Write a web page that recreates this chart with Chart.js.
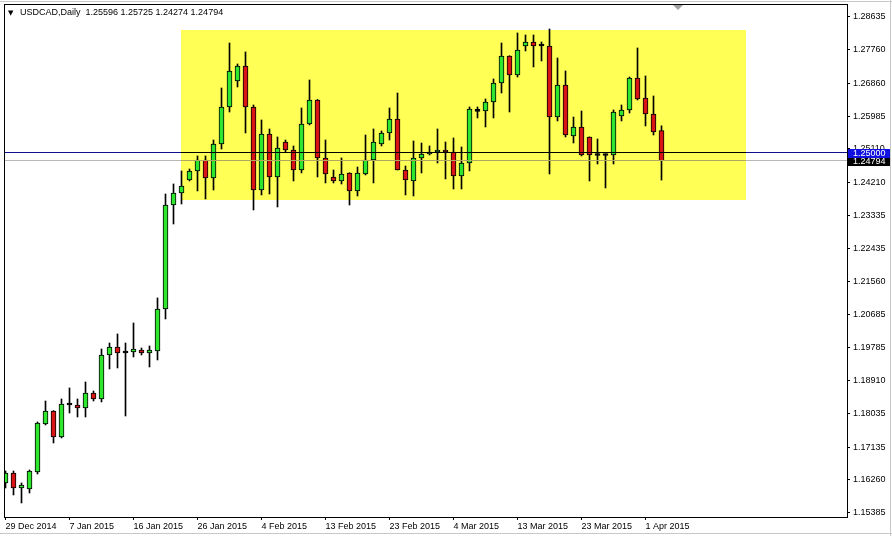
<!DOCTYPE html>
<html>
<head>
<meta charset="utf-8">
<script src="https://cdn.jsdelivr.net/npm/chart.js@4.4.1/dist/chart.umd.min.js"></script>
<style>
  html, body { margin: 0; padding: 0; background: #fff; }
  #chart { display: block; }
</style>
</head>
<body>
<canvas id="chart" width="892" height="536"></canvas>
<script>
const symbolTitle = "USDCAD,Daily  1.25596 1.25725 1.24274 1.24794";

const dates = [
    "29 Dec 2014", "30 Dec 2014", "31 Dec 2014", "1 Jan 2015", "2 Jan 2015", "4 Jan 2015", "5 Jan 2015", "6 Jan 2015",
    "7 Jan 2015", "8 Jan 2015", "9 Jan 2015", "11 Jan 2015", "12 Jan 2015", "13 Jan 2015", "14 Jan 2015", "15 Jan 2015",
    "16 Jan 2015", "18 Jan 2015", "19 Jan 2015", "20 Jan 2015", "21 Jan 2015", "22 Jan 2015", "23 Jan 2015", "25 Jan 2015",
    "26 Jan 2015", "27 Jan 2015", "28 Jan 2015", "29 Jan 2015", "30 Jan 2015", "1 Feb 2015", "2 Feb 2015", "3 Feb 2015",
    "4 Feb 2015", "5 Feb 2015", "6 Feb 2015", "8 Feb 2015", "9 Feb 2015", "10 Feb 2015", "11 Feb 2015", "12 Feb 2015",
    "13 Feb 2015", "15 Feb 2015", "16 Feb 2015", "17 Feb 2015", "18 Feb 2015", "19 Feb 2015", "20 Feb 2015", "22 Feb 2015",
    "23 Feb 2015", "24 Feb 2015", "25 Feb 2015", "26 Feb 2015", "27 Feb 2015", "1 Mar 2015", "2 Mar 2015", "3 Mar 2015",
    "4 Mar 2015", "5 Mar 2015", "6 Mar 2015", "8 Mar 2015", "9 Mar 2015", "10 Mar 2015", "11 Mar 2015", "12 Mar 2015",
    "13 Mar 2015", "15 Mar 2015", "16 Mar 2015", "17 Mar 2015", "18 Mar 2015", "19 Mar 2015", "20 Mar 2015", "22 Mar 2015",
    "23 Mar 2015", "24 Mar 2015", "25 Mar 2015", "26 Mar 2015", "27 Mar 2015", "29 Mar 2015", "30 Mar 2015", "31 Mar 2015",
    "1 Apr 2015", "2 Apr 2015", "3 Apr 2015"
];

const openP = [
    1.16175, 1.16442, 1.16041, 1.16014, 1.16469, 1.17752, 1.18100, 1.17405, 1.18260, 1.18260,
    1.18180, 1.18581, 1.18421, 1.19597, 1.19811, 1.19678, 1.19678, 1.19731, 1.19651, 1.19704,
    1.20827, 1.23608, 1.23929, 1.24277, 1.24518, 1.24812, 1.24330, 1.25239, 1.26229, 1.26924,
    1.27325, 1.26229, 1.24009, 1.25507, 1.24357, 1.25293, 1.25079, 1.24544, 1.25774, 1.26416,
    1.24865, 1.24357, 1.24250, 1.24464, 1.23983, 1.24437, 1.24812, 1.25239, 1.25534, 1.25908,
    1.24544, 1.24250, 1.24865, 1.24972, 1.25026, 1.25079, 1.25026, 1.24384, 1.24731, 1.26110,
    1.26122, 1.26363, 1.26871, 1.27593, 1.27085, 1.27860, 1.27967, 1.27887, 1.27860, 1.25961,
    1.26817, 1.25453, 1.25694, 1.25427, 1.24959, 1.24959, 1.24945, 1.25988, 1.26149, 1.27004,
    1.26470, 1.26042, 1.25596
];
const highP = [
    1.16495, 1.16495, 1.16175, 1.16522, 1.17806, 1.18367, 1.18110, 1.18421, 1.18715, 1.18421,
    1.18875, 1.18635, 1.19758, 1.19918, 1.20159, 1.19918, 1.20453, 1.19785, 1.19838, 1.21122,
    1.23902, 1.24170, 1.24518, 1.24571, 1.24919, 1.24919, 1.25346, 1.26737, 1.27940, 1.27379,
    1.27700, 1.26282, 1.25881, 1.25641, 1.25427, 1.25346, 1.25186, 1.26202, 1.26951, 1.26430,
    1.25346, 1.24544, 1.24865, 1.24470, 1.24624, 1.25480, 1.25641, 1.25587, 1.26202, 1.26603,
    1.24651, 1.25320, 1.25266, 1.25186, 1.25641, 1.25293, 1.25400, 1.25159, 1.26229, 1.26229,
    1.26443, 1.26978, 1.27940, 1.27600, 1.28208, 1.28154, 1.28154, 1.27967, 1.28315, 1.27539,
    1.27192, 1.25961, 1.26122, 1.25430, 1.25373, 1.24972, 1.26149, 1.26282, 1.27031, 1.27807,
    1.27058, 1.26523, 1.25725
];
const lowP = [
    1.16041, 1.15854, 1.15640, 1.15907, 1.16415, 1.17726, 1.17244, 1.17378, 1.18046, 1.17939,
    1.17939, 1.18367, 1.18341, 1.19223, 1.19250, 1.17966, 1.19544, 1.19597, 1.19276, 1.19464,
    1.20560, 1.23100, 1.23635, 1.24250, 1.23983, 1.23769, 1.24009, 1.25106, 1.26095, 1.26764,
    1.25534, 1.23475, 1.23876, 1.23902, 1.23555, 1.25026, 1.24250, 1.24464, 1.25748, 1.24357,
    1.24197, 1.24197, 1.24170, 1.23608, 1.23849, 1.24411, 1.24197, 1.25186, 1.25346, 1.24544,
    1.23876, 1.23849, 1.24464, 1.24945, 1.24731, 1.24304, 1.24036, 1.24036, 1.24518, 1.25935,
    1.25694, 1.25935, 1.26603, 1.26095, 1.27031, 1.27726, 1.27298, 1.27459, 1.24437, 1.25855,
    1.25427, 1.25266, 1.24919, 1.24250, 1.24705, 1.24063, 1.24705, 1.25855, 1.26068, 1.26416,
    1.25721, 1.25480, 1.24274
];
const closeP = [
    1.16442, 1.16041, 1.16121, 1.16495, 1.17779, 1.18100, 1.17405, 1.18287, 1.18287, 1.18180,
    1.18581, 1.18421, 1.19597, 1.19811, 1.19651, 1.19651, 1.19758, 1.19651, 1.19731, 1.20827,
    1.23608, 1.23929, 1.24116, 1.24518, 1.24812, 1.24330, 1.25239, 1.26229, 1.27192, 1.27325,
    1.26229, 1.24009, 1.25507, 1.24357, 1.25133, 1.25079, 1.24544, 1.25774, 1.26416, 1.24865,
    1.24437, 1.24250, 1.24437, 1.23983, 1.24464, 1.24812, 1.25293, 1.25534, 1.25908, 1.24544,
    1.24277, 1.24865, 1.24972, 1.25026, 1.25079, 1.25026, 1.24384, 1.24731, 1.26175, 1.26122,
    1.26363, 1.26871, 1.27593, 1.27085, 1.27753, 1.27967, 1.27860, 1.27860, 1.25961, 1.26817,
    1.25480, 1.25694, 1.24945, 1.24945, 1.24932, 1.24932, 1.26095, 1.26149, 1.27004, 1.26443,
    1.26042, 1.25560, 1.24794
];

const yTicks = [
    1.28635, 1.27760, 1.26860, 1.25985, 1.25110, 1.24210, 1.23335, 1.22435,
    1.21560, 1.20685, 1.19785, 1.18910, 1.18035, 1.17135, 1.16260, 1.15385
];
const xTickStep = 8;

// support / resistance box (bar index, price)
const boxStart = [21.94, 1.28288];
const boxEnd = [92.6, 1.23742];

const lineLevel = 1.25000;
const bidLevel = 1.24794;

const font = { family: "'Liberation Sans', Arial, sans-serif", size: 9 };
const fontStr = "9px 'Liberation Sans', Arial, sans-serif";

const wicks = dates.map((d, i) => ({ x: i, y: [lowP[i], highP[i]] }));
const bodies = dates.map((d, i) => ({ x: i, y: [openP[i], closeP[i]] }));
const bodyColors = dates.map((d, i) => {
    const diff = closeP[i] - openP[i];
    if (Math.abs(diff) < 0.0003) return "#000000";
    return diff > 0 ? "#2ee62e" : "#d81414";
});

const mtPlugin = {
    id: "mtPlugin",
    beforeDraw(chart) {
        const ctx = chart.ctx;
        ctx.save();
        ctx.fillStyle = "#ffffff";
        ctx.fillRect(0, 0, chart.width, chart.height);
        ctx.fillStyle = "#c8c8c8";
        ctx.fillRect(0, 1, chart.width, 1);
        ctx.fillRect(0, 533, chart.width, 1);
        ctx.fillRect(890, 0, 1, chart.height);
        ctx.restore();
    },
    beforeDatasetsDraw(chart) {
        const ctx = chart.ctx;
        const sx = chart.scales.x, sy = chart.scales.y;
        const x1 = Math.round(sx.getPixelForValue(boxStart[0]));
        const x2 = Math.round(sx.getPixelForValue(boxEnd[0]));
        const y1 = Math.round(sy.getPixelForValue(boxStart[1]));
        const y2 = Math.round(sy.getPixelForValue(boxEnd[1]));
        ctx.save();
        ctx.fillStyle = "#ffff55";
        ctx.fillRect(x1, y1, x2 - x1, y2 - y1);
        ctx.restore();
    },
    afterDatasetsDraw(chart) {
        const ctx = chart.ctx;
        const area = chart.chartArea;
        const sx = chart.scales.x, sy = chart.scales.y;
        const bx1 = Math.round(sx.getPixelForValue(boxStart[0]));
        const bx2 = Math.round(sx.getPixelForValue(boxEnd[0]));

        function hline(level, outside, inside) {
            const y = Math.floor(sy.getPixelForValue(level)) + 0.5;
            ctx.lineWidth = 1;
            ctx.strokeStyle = outside;
            ctx.beginPath();
            ctx.moveTo(area.left, y); ctx.lineTo(bx1, y);
            ctx.moveTo(bx2, y); ctx.lineTo(area.right, y);
            ctx.stroke();
            ctx.strokeStyle = inside;
            ctx.beginPath();
            ctx.moveTo(bx1, y); ctx.lineTo(bx2, y);
            ctx.stroke();
        }

        ctx.save();
        hline(bidLevel, "#b8b8b8", "#b0a860");
        hline(lineLevel, "#10108c", "#000000");

        // chart frame
        ctx.strokeStyle = "#000000";
        ctx.strokeRect(4.5, 4.5, 843, 513);

        // shift marker
        ctx.fillStyle = "#a0a0a0";
        ctx.beginPath();
        ctx.moveTo(673, 5); ctx.lineTo(683, 5); ctx.lineTo(678, 10);
        ctx.closePath();
        ctx.fill();

        // title
        ctx.fillStyle = "#000000";
        ctx.textBaseline = "middle";
        ctx.font = "7px 'DejaVu Sans', sans-serif";
        ctx.fillText("\u25BC", 8, 13);
        ctx.font = fontStr;
        ctx.fillText(symbolTitle, 20, 13);
        ctx.restore();
    },
    afterDraw(chart) {
        const ctx = chart.ctx;
        const sy = chart.scales.y;
        function tag(level, bg) {
            const y = Math.round(sy.getPixelForValue(level));
            ctx.fillStyle = bg;
            ctx.fillRect(848, y - 4, 42, 9);
            ctx.fillStyle = "#ffffff";
            ctx.textBaseline = "middle";
            ctx.font = fontStr;
            ctx.fillText(level.toFixed(5), 853, y + 0.5);
        }
        ctx.save();
        tag(bidLevel, "#000000");
        tag(lineLevel, "#1010e0");
        ctx.restore();
    }
};

new Chart(document.getElementById("chart"), {
    type: "bar",
    data: {
        datasets: [
            {
                label: "body",
                data: bodies,
                barThickness: 5,
                backgroundColor: bodyColors,
                borderColor: "#000000",
                borderWidth: 1,
                borderSkipped: false,
                minBarLength: 2,
                grouped: false,
                order: 0
            },
            {
                label: "wick",
                data: wicks,
                barThickness: 1,
                backgroundColor: "#000000",
                borderWidth: 0,
                grouped: false,
                order: 1
            }
        ]
    },
    options: {
        responsive: false,
        animation: false,
        events: [],
        layout: { padding: { left: 4, top: 4, right: 0, bottom: 0 } },
        plugins: {
            legend: { display: false },
            tooltip: { enabled: false }
        },
        scales: {
            x: {
                type: "linear",
                min: -0.1875,
                max: 105.1875,
                offset: false,
                afterBuildTicks: s => {
                    s.ticks = dates.map((d, i) => i).filter(i => i % xTickStep === 0).map(v => ({ value: v }));
                },
                afterFit: s => { s.height = 19; s.paddingLeft = 0; s.paddingRight = 0; },
                grid: { offset: false, drawOnChartArea: false, tickLength: 3, tickColor: "#000000" },
                border: { display: false },
                ticks: {
                    align: "start",
                    autoSkip: false,
                    maxRotation: 0,
                    padding: 1,
                    color: "#000000",
                    font: font,
                    callback: v => dates[v]
                }
            },
            y: {
                position: "right",
                min: 1.152647,
                max: 1.289826,
                afterBuildTicks: s => { s.ticks = yTicks.map(v => ({ value: v })); },
                afterFit: s => { s.width = 45; s.paddingTop = 0; s.paddingBottom = 0; },
                grid: { drawOnChartArea: false, tickLength: 3, tickColor: "#000000" },
                border: { display: false },
                ticks: {
                    autoSkip: false,
                    padding: 3,
                    color: "#000000",
                    font: font,
                    callback: v => v.toFixed(5)
                }
            }
        }
    },
    plugins: [mtPlugin]
});
</script>
</body>
</html>
